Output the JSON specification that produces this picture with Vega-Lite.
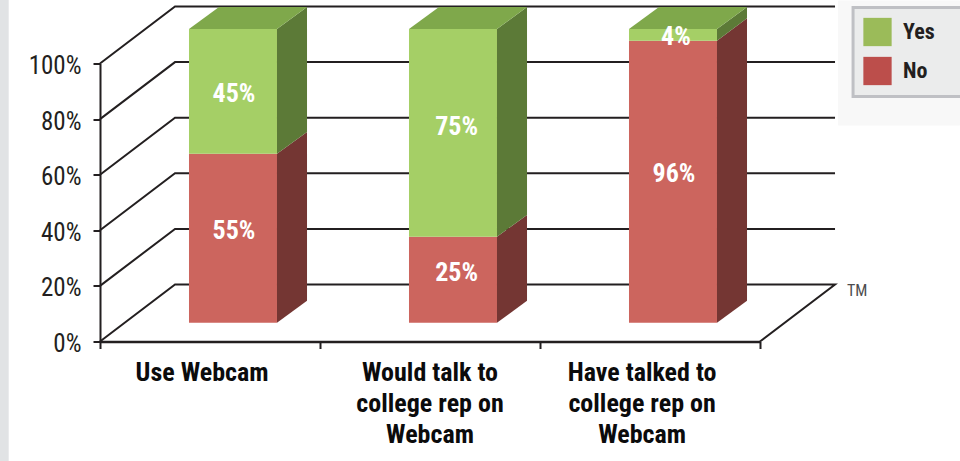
{
"$schema":"https://vega.github.io/schema/vega-lite/v6.json",
"width":660,"height":278,
"padding":{"left":100,"top":63.5,"right":200,"bottom":119.5},
"autosize":{"type":"none"},
"background":"#ffffff",
"config":{"view":{"stroke":null},"font":"Roboto"},
"datasets":{
"strip":[{"x":-0.4545,"x2":-0.415,"y":-43.3,"y2":123}],
"shadow":[{"x":3.355,"x2":3.909,"y":122.7,"y2":77.7}],
"box":[{"x":3.423,"x2":3.95,"y":120.1,"y2":88.1}],
"wall":[
{"level":0,"x":0,"y":0},{"level":0,"x":0.341,"y":20.5},{"level":0,"x":3.341,"y":20.5},{"level":0,"x":3,"y":0},
{"level":20,"x":0,"y":20},{"level":20,"x":0.341,"y":40.5},{"level":20,"x":3.341,"y":40.5},
{"level":40,"x":0,"y":40},{"level":40,"x":0.341,"y":60.5},{"level":40,"x":3.341,"y":60.5},
{"level":60,"x":0,"y":60},{"level":60,"x":0.341,"y":80.5},{"level":60,"x":3.341,"y":80.5},
{"level":80,"x":0,"y":80},{"level":80,"x":0.341,"y":100.5},{"level":80,"x":3.341,"y":100.5},
{"level":100,"x":0,"y":100},{"level":100,"x":0.341,"y":120.5},{"level":100,"x":3.341,"y":120.5}
],
"front":[
{"category":"Use Webcam","part":"No front","x":0.4045,"x2":0.8045,"y":6.76,"y2":67.55},
{"category":"Use Webcam","part":"Yes front","x":0.4045,"x2":0.8045,"y":67.55,"y2":112.4},
{"category":"Would talk to college rep on Webcam","part":"No front","x":1.4045,"x2":1.8045,"y":6.76,"y2":37.7},
{"category":"Would talk to college rep on Webcam","part":"Yes front","x":1.4045,"x2":1.8045,"y":37.7,"y2":112.4},
{"category":"Have talked to college rep on Webcam","part":"No front","x":2.4045,"x2":2.8045,"y":6.76,"y2":108.2},
{"category":"Have talked to college rep on Webcam","part":"Yes front","x":2.4045,"x2":2.8045,"y":108.2,"y2":112.4}
],
"side":[
{"id":"a-no","part":"No side","x":0.8045,"y":6.76,"y2":67.55},{"id":"a-no","part":"No side","x":0.941,"y":14.68,"y2":75.4},
{"id":"a-yes","part":"Yes side","x":0.8045,"y":67.55,"y2":112.4},{"id":"a-yes","part":"Yes side","x":0.941,"y":75.4,"y2":120.3},
{"id":"b-no","part":"No side","x":1.8045,"y":6.76,"y2":37.7},{"id":"b-no","part":"No side","x":1.941,"y":14.68,"y2":45.5},
{"id":"b-yes","part":"Yes side","x":1.8045,"y":37.7,"y2":112.4},{"id":"b-yes","part":"Yes side","x":1.941,"y":45.5,"y2":120.3},
{"id":"c-no","part":"No side","x":2.8045,"y":6.76,"y2":108.2},{"id":"c-no","part":"No side","x":2.941,"y":14.68,"y2":116.3},
{"id":"c-yes","part":"Yes side","x":2.8045,"y":108.2,"y2":112.4},{"id":"c-yes","part":"Yes side","x":2.941,"y":116.3,"y2":120.3}
],
"top":[
{"id":"a","part":"Yes top","y":112.4,"x":0.4045,"x2":0.8045},{"id":"a","part":"Yes top","y":120.3,"x":0.541,"x2":0.941},
{"id":"b","part":"Yes top","y":112.4,"x":1.4045,"x2":1.8045},{"id":"b","part":"Yes top","y":120.3,"x":1.541,"x2":1.941},
{"id":"c","part":"Yes top","y":112.4,"x":2.4045,"x2":2.8045},{"id":"c","part":"Yes top","y":120.3,"x":2.541,"x2":2.941}
],
"values":[
{"label":"45%","x":0.609,"y":89.2},{"label":"55%","x":0.609,"y":39.7},
{"label":"75%","x":1.621,"y":77.2},{"label":"25%","x":1.621,"y":24.5},
{"label":"96%","x":2.609,"y":60.3},{"label":"4%","x":2.618,"y":109.6}
],
"cats":[
{"label":["Use Webcam"],"x":0.464,"y":-14.2},
{"label":["Would talk to","college rep on","Webcam"],"x":1.5,"y":-14.2},
{"label":["Have talked to","college rep on","Webcam"],"x":2.464,"y":-14.2}
],
"tm":[{"label":"TM","x":3.395,"y":16.5}]
},
"encoding":{
"x":{"field":"x","type":"quantitative","scale":{"domain":[0,3],"nice":false,"zero":false},"axis":{"values":[0,1,2,3],"labels":false,"ticks":true,"tickSize":7,"tickWidth":2,"tickColor":"#231F20","domain":true,"domainColor":"#231F20","domainWidth":2.5,"grid":false,"title":null}},
"y":{"field":"y","type":"quantitative","scale":{"domain":[0,100],"nice":false,"zero":false},"axis":{"values":[0,20,40,60,80,100],"labelExpr":"datum.value+'%'","labelFontSize":25,"labelColor":"#231F20","labelFont":"Roboto Condensed, Roboto","labelPadding":12,"labelOffset":2,"tickSize":7,"tickWidth":2,"tickColor":"#231F20","domain":true,"domainColor":"#231F20","domainWidth":2,"grid":false,"title":null}}
},
"layer":[
{"data":{"name":"strip"},"mark":{"type":"rect","fill":"#E1E3E5"},"encoding":{"x2":{"field":"x2"},"y2":{"field":"y2"}}},
{"data":{"name":"shadow"},"mark":{"type":"rect","fill":"#F8F8F8"},"encoding":{"x2":{"field":"x2"},"y2":{"field":"y2"}}},
{"data":{"name":"box"},"mark":{"type":"rect","fill":"#EBECEC","stroke":"#BFC0C4","strokeWidth":3},"encoding":{"x2":{"field":"x2"},"y2":{"field":"y2"}}},
{"data":{"name":"wall"},"mark":{"type":"line","stroke":"#231F20","strokeWidth":2},
 "encoding":{"detail":{"field":"level"},"order":{"field":"row"}}},
{"data":{"name":"front"},"mark":{"type":"rect"},
 "encoding":{"x2":{"field":"x2"},"y2":{"field":"y2"},
 "color":{"field":"part","type":"nominal","scale":{"domain":["Yes","No","Yes front","No front","Yes side","No side","Yes top"],"range":["#9BBB59","#BC4E4B","#A5CF66","#CC655E","#5C7A37","#743633","#7FA84B"]},
 "legend":{"values":["Yes","No"],"title":null,"orient":"none","legendX":763,"legendY":-46,"padding":0,"symbolType":"square","symbolSize":800,"symbolStrokeWidth":0,"labelFont":"Roboto Condensed, Roboto","labelFontWeight":"bold","labelFontSize":22,"labelColor":"#231F20","labelOffset":11,"rowPadding":10}}}},
{"data":{"name":"side"},"mark":{"type":"area","opacity":1},
 "encoding":{"detail":{"field":"id"},"y2":{"field":"y2"},"color":{"field":"part","type":"nominal"}}},
{"data":{"name":"top"},"mark":{"type":"area","orient":"horizontal","opacity":1},
 "encoding":{"detail":{"field":"id"},"x2":{"field":"x2"},"color":{"field":"part","type":"nominal"}}},
{"data":{"name":"values"},"mark":{"type":"text","font":"Roboto Condensed, Roboto","fontWeight":"bold","fontSize":26,"fill":"#ffffff","align":"center","baseline":"middle"},"encoding":{"text":{"field":"label"}}},
{"data":{"name":"cats"},"mark":{"type":"text","font":"Roboto Condensed, Roboto","fontWeight":"bold","fontSize":26,"fill":"#0B0B0C","align":"center","baseline":"alphabetic","lineHeight":31},"encoding":{"text":{"field":"label"}}},
{"data":{"name":"tm"},"mark":{"type":"text","font":"Roboto Condensed, Roboto","fontSize":16,"fill":"#4D4D4F","align":"left","baseline":"alphabetic"},"encoding":{"text":{"field":"label"}}}
]
}
